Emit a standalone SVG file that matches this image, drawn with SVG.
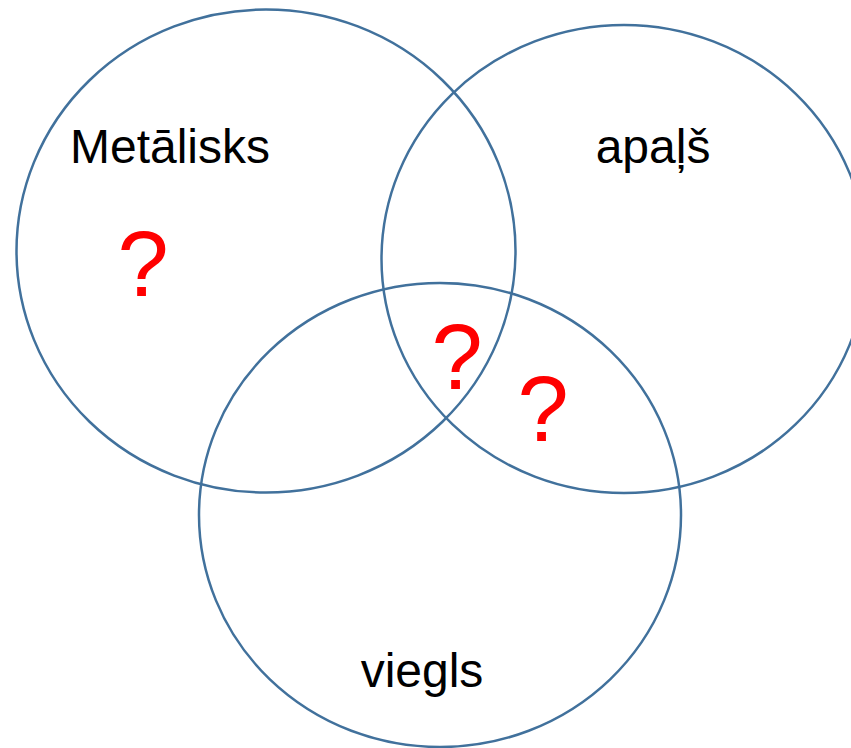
<svg xmlns="http://www.w3.org/2000/svg" width="851" height="748" viewBox="0 0 851 748">
<style>
.c{fill:none;stroke:#41719C;stroke-width:2.5}
.t{font-family:"Liberation Sans",Arial,sans-serif;font-size:48px;fill:#000;text-anchor:middle}
.q{font-family:"Liberation Sans",Arial,sans-serif;font-size:92px;fill:#FF0000;text-anchor:middle}
</style>
<rect width="851" height="748" fill="#fff"/>
<g id="set-metalisks">
<ellipse class="c" cx="266" cy="251" rx="249.5" ry="241.5"/>
<text class="t" x="170" y="163">Metālisks</text>
</g>
<g id="set-apals">
<ellipse class="c" cx="624" cy="259" rx="242.5" ry="234"/>
<text class="t" x="653" y="163">apaļš</text>
</g>
<g id="set-viegls">
<ellipse class="c" cx="440" cy="515" rx="241" ry="232"/>
<text class="t" x="422" y="687">viegls</text>
</g>
<g id="questions">
<text class="q" x="143" y="296">?</text>
<text class="q" x="457" y="389">?</text>
<text class="q" x="543" y="441">?</text>
</g>
</svg>
